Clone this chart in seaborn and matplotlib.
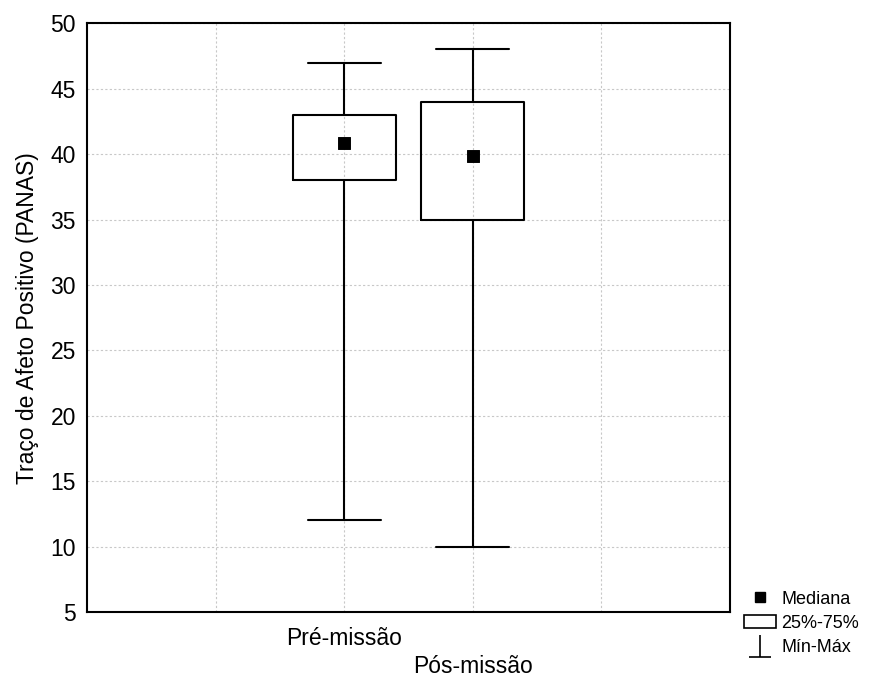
import matplotlib
matplotlib.use("Agg")
import matplotlib.pyplot as plt
import seaborn as sns
import pandas as pd
from matplotlib.lines import Line2D
from matplotlib.patches import Patch
from matplotlib.path import Path

groups = ["Pré-missão", "Pós-missão"]
positions = [2, 3]
medians = [40.86, 39.86]
q1 = [38, 35]
q3 = [43, 44]
whisk_lo = [12, 10]
whisk_hi = [47, 48]
y_label = "Traço de Afeto Positivo (PANAS)"

sns.set_style("white")
plt.rcParams["font.family"] = ["Liberation Sans", "DejaVu Sans"]
plt.rcParams["font.size"] = 16.5
plt.rcParams["text.color"] = "black"
plt.rcParams["axes.labelcolor"] = "black"

fig = plt.figure(figsize=(8.7, 6.79), dpi=100)
ax = fig.add_axes([0.1, 0.0987, 0.739, 0.867])

stats = [
    {"label": g, "med": m, "q1": a, "q3": b, "whislo": lo, "whishi": hi, "fliers": []}
    for g, m, a, b, lo, hi in zip(groups, medians, q1, q3, whisk_lo, whisk_hi)
]
line = dict(color="black", linewidth=1.5)
ax.bxp(
    stats,
    positions=positions,
    widths=0.8,
    showfliers=False,
    boxprops=line,
    whiskerprops=line,
    capprops=line,
    medianprops=dict(linewidth=0),
    capwidths=0.57,
    manage_ticks=False,
)

medf = pd.DataFrame({"pos": positions, "median": medians})
sns.scatterplot(data=medf, x="pos", y="median", marker="s", s=70, color="black",
                edgecolor="black", ax=ax, zorder=5)

ax.set_xlim(0, 5)
ax.set_ylim(5, 50)
ax.set_yticks(range(5, 51, 5))
ax.set_xticks([1, 2, 3, 4])
ax.set_xticklabels(["", groups[0], "\n" + groups[1], ""], linespacing=1.25)
ax.set_xlabel("")
ax.set_ylabel(y_label, fontsize=16.5, labelpad=8)
ax.grid(True, color="#c8c8c8", linestyle=(0, (2, 2)), linewidth=0.8)
ax.tick_params(direction="in", length=5, width=1, colors="black", labelsize=16.5)
ax.tick_params(axis="x", pad=11)
ax.tick_params(axis="y", pad=8)
for s in ax.spines.values():
    s.set_visible(True)
    s.set_color("black")
    s.set_linewidth(1.5)

whisk_marker = Path([(0, 1), (0, -1), (-1, -1), (1, -1)],
                    [Path.MOVETO, Path.LINETO, Path.MOVETO, Path.LINETO])
handles = [
    Line2D([], [], marker="s", color="black", linestyle="none", markersize=7),
    Patch(facecolor="white", edgecolor="black", linewidth=1.2),
    Line2D([], [], marker=whisk_marker, color="black", linestyle="none",
           markersize=16, markeredgewidth=1.2, markerfacecolor="none"),
]
fig.legend(handles, ["Mediana", "25%-75%", "Mín-Máx"], loc="lower left",
           bbox_to_anchor=(0.837, 0.01), frameon=False, fontsize=13,
           handlelength=1.75, handletextpad=0.3, labelspacing=0.4)

fig.savefig("out.png", dpi=100)
